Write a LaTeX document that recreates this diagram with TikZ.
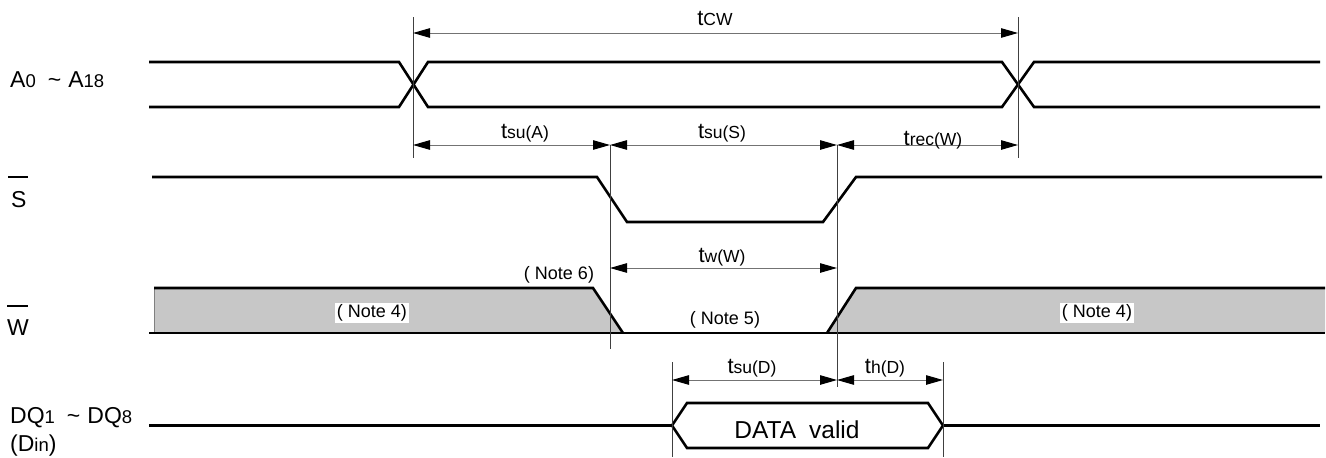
\documentclass[tikz,border=0pt]{standalone}
\usepackage{fontspec}
\setmainfont{Liberation Sans}
\usetikzlibrary{arrows.meta}
\newcommand\bigf{\fontsize{22}{26}\selectfont}
\newcommand\smf{\fontsize{17.5}{20}\selectfont}
\newcommand\sigf{\fontsize{23}{27}\selectfont}
\newcommand\sigsub{\fontsize{18.5}{21}\selectfont}
\newcommand\notef{\fontsize{18}{21}\selectfont}
\newcommand\tlab[2]{{\bigf #1}{\smf #2}}
\tikzset{
  sig/.style={line width=2.6pt, line join=miter},
  wfill/.style={fill=black!22},
  guide/.style={line width=1pt, draw=black!75},
  dim/.style={line width=1pt, draw=black!55,
    {Triangle[length=17pt,width=9.5pt,color=black]}-{Triangle[length=17pt,width=9.5pt,color=black]}},
  tlabel/.style={anchor=base, inner sep=0pt},
  notelab/.style={inner sep=1.5pt, font=\notef},
  siglab/.style={anchor=base west, inner sep=0pt, font=\sigf},
  bar/.style={line width=2pt}
}
\begin{document}
\begin{tikzpicture}[x=1pt,y=-1pt]
\useasboundingbox (0,0) rectangle (1326,458);
% ---- coordinates for guides
\coordinate (g1t) at (413,17);  \coordinate (g1b) at (413,158);
\coordinate (g2t) at (1018,17); \coordinate (g2b) at (1018,158);
\coordinate (g3t) at (610,145); \coordinate (g3b) at (610,349);
\coordinate (g4t) at (837,145); \coordinate (g4b) at (837,387);
\coordinate (g5t) at (672,362); \coordinate (g5b) at (672,457);
\coordinate (g6t) at (943,362); \coordinate (g6b) at (943,457);
% ---- waveforms
% A bus
\draw[sig] (149,62) -- (399,62) -- (428,107) -- (1002,107) -- (1034,62) -- (1320,62);
\draw[sig] (149,107) -- (399,107) -- (428,62) -- (1002,62) -- (1034,107) -- (1320,107);
% S
\draw[sig] (152,177) -- (597,177) -- (627,222) -- (823,222) -- (856,177) -- (1322,177);
% W
\fill[wfill] (154,288) -- (593,288) -- (623,333) -- (154,333) -- cycle;
\fill[wfill] (827,333) -- (856,288) -- (1325,288) -- (1325,333) -- cycle;
\draw[line width=0.6pt, draw=black!50] (154,288) -- (154,333);
\draw[sig] (154,288) -- (593,288) -- (623,333);
\draw[sig] (827,333) -- (856,288) -- (1325,288);
\draw[sig] (149,333) -- (1325,333);
% DQ
\draw[sig] (149,425.5) -- (672,425.5);
\draw[sig] (672,425.5) -- (687,403) -- (928,403) -- (943,425.5) -- (928,448) -- (687,448) -- cycle;
\draw[sig] (943,425.5) -- (1320,425.5);
% ---- guide lines
\draw[guide] (g1t) -- (g1b);
\draw[guide] (g2t) -- (g2b);
\draw[guide] (g3t) -- (g3b);
\draw[guide] (g4t) -- (g4b);
\draw[guide] (g5t) -- (g5b);
\draw[guide] (g6t) -- (g6b);
% ---- dimension arrows
\coordinate (cwL) at (413,33);  \coordinate (cwR) at (1018,33);
\coordinate (aL) at (413,145);  \coordinate (aR) at (610,145);
\coordinate (sR) at (837,145);  \coordinate (rR) at (1018,145);
\coordinate (wL) at (610,268);  \coordinate (wR) at (837,268);
\coordinate (dL) at (672,380);  \coordinate (dM) at (837,380); \coordinate (dR) at (943,380);
\draw[dim] (cwL) -- (cwR);
\draw[dim] (aL) -- (aR);
\draw[dim] (aR) -- (sR);
\draw[dim] (sR) -- (rR);
\draw[dim] (wL) -- (wR);
\draw[dim] (dL) -- (dM);
\draw[dim] (dM) -- (dR);
% ---- timing labels
\node[tlabel] (tcw) at (715,25) {\tlab{t}{CW}};
\node[tlabel] (tsua) at (525,138) {\tlab{t}{su(A)}};
\node[tlabel] (tsus) at (722,138) {\tlab{t}{su(S)}};
\node[tlabel] (trec) at (933,145) {\tlab{t}{rec(W)}};
\node[tlabel] (tww) at (722,262) {\tlab{t}{w(W)}};
\node[tlabel] (tsud) at (752,373) {\tlab{t}{su(D)}};
\node[tlabel] (thd) at (885,373) {\tlab{t}{h(D)}};
% ---- notes
\node[notelab, fill=white] (n4a) at (372,313) {( Note 4)};
\node[notelab, fill=white] (n4b) at (1097,313) {( Note 4)};
\node[notelab, anchor=base] (n5) at (725,324) {( Note 5)};
\node[notelab, anchor=base] (n6) at (559,279) {( Note 6)};
\node[anchor=base, inner sep=0pt, font=\fontsize{24.5}{28}\selectfont] (dv) at (797,438) {DATA\hspace{13pt}valid};
% ---- signal names
\node[siglab] (lA) at (10,87) {A{\sigsub 0}\hspace{12pt}\textasciitilde\hspace{7pt}A{\sigsub 18}};
\node[siglab] (lS) at (11,207) {S};
\draw[bar] ([xshift=-3pt,yshift=14pt]lS.north west) -- ([xshift=17pt,yshift=14pt]lS.north west);
\node[siglab] (lW) at (7,335) {W};
\draw[bar] ([xshift=0pt,yshift=13pt]lW.north west) -- ([xshift=21pt,yshift=13pt]lW.north west);
\node[siglab] (lDQ) at (10,423) {DQ{\sigsub 1}\hspace{12pt}\textasciitilde\hspace{7pt}DQ{\sigsub 8}};
\node[siglab] (lDin) at (10,451) {(D{\sigsub in})};
\end{tikzpicture}
\end{document}
